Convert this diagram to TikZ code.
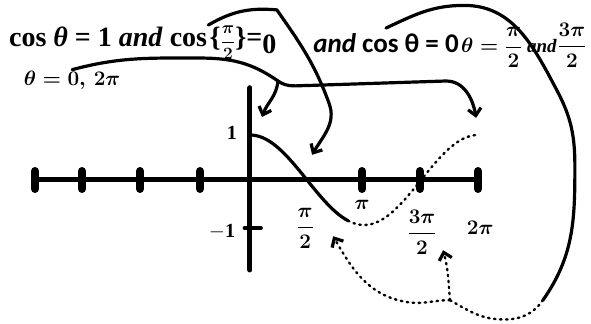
\documentclass[tikz,border=0pt]{standalone}
\usepackage{amsmath}
\usepackage{fontspec}
\setmainfont{Liberation Serif}
\newfontfamily\calibri{Carlito}
\usetikzlibrary{arrows.meta}
\begin{document}
\begin{tikzpicture}[x=36.3pt, y=45pt, line cap=round, line join=round,
    pen/.style={line width=3.2pt},
    dots/.style={line width=2.4pt, dash pattern=on 1.5pt off 4.5pt},
    barb/.style={-{Straight Barb[length=7pt,width=13pt,line width=3.2pt]}},
    notch/.style={line width=8pt},
    hand/.style={inner sep=1pt, font=\fontsize{20}{22}\selectfont},
    title/.style={inner sep=1pt, anchor=base west, font=\fontsize{28}{30}\selectfont\bfseries}]
  \useasboundingbox (-6.887,-3.178) rectangle (9.394,4.0);
  \draw[line width=5pt] (-5.92,0)--(6.28,0);
  \draw[line width=5pt] (0,-2)--(0,2.05);
  \foreach \t in {-5.92,-4.63,-3.03,-1.38,3.09,4.68,6.28}
    \draw[notch] (\t,-0.2)--(\t,0.2);
  \draw[line width=4pt] (-0.15,-1.07)--(0.3,-1.07);
  \draw[pen,domain=0:2.7,samples=60] plot ({\x},{cos(\x r)});
  \draw[dots,domain=2.7:6.28,samples=60] plot ({\x},{cos(\x r)});
  \node[hand] (lone) at (-0.5,1.04) {$\mathbf{1}$};
  \node[hand] (lmone) at (-0.77,-1.16) {$\mathbf{-1}$};
  \node[hand] (lhalf) at (1.52,-1.07) {$\boldsymbol{\dfrac{\pi}{2}}$};
  \node[hand] (lpi) at (3.09,-0.56) {$\boldsymbol{\pi}$};
  \node[hand] (lthree) at (4.74,-1.16) {$\boldsymbol{\dfrac{3\pi}{2}}$};
  \node[hand] (ltwo) at (6.34,-1.07) {$\boldsymbol{2\pi}$};
  \node[title] (eqone) at (-6.67,2.96) {cos \textit{θ} = 1 \textit{and} cos};
  \node[title] (halfpi) at (eqone.base east)
    {\{{\fontsize{16}{17}\selectfont$\boldsymbol{\dfrac{\pi}{2}}$}\}=\raisebox{-7pt}{0}};
  \node[title, font=\fontsize{27}{29}\selectfont\calibri\bfseries] (coszero) at (1.71,2.84) {\textit{and} cos θ = 0};
  \node[title, hand] (roots) at (coszero.base east)
    {$\boldsymbol{\theta=\dfrac{\pi}{2}}$ {\fontsize{19}{20}\selectfont\textbf{\textit{and}}}};
  \node[hand] (threehalf) at (8.87,3.0) {$\boldsymbol{\dfrac{3\pi}{2}}$};
  \node[hand, font=\fontsize{22}{24}\selectfont] (zeros) at (-4.9,2.22) {$\boldsymbol{\theta=0,\,2\pi}$};
  \coordinate (fork) at (0.77,2.2);
  \coordinate (tip0) at (0.33,1.4);
  \coordinate (tip2pi) at (6.23,1.38);
  \coordinate (tiphalf) at (1.71,0.56);
  \coordinate (split) at (5.51,-2.67);
  \coordinate (tiplhalf) at (2.29,-1.25);
  \coordinate (tiplthree) at (5.32,-1.56);
  \draw[pen] (zeros.north) to[out=15,in=180] (-1.4,2.71) to[out=0,in=145] (fork);
  \draw[pen,barb] (fork) to[out=-35,in=180] (1.6,2.1) -- (5.4,2.2) to[out=0,in=100] (tip2pi);
  \draw[pen,barb] (fork) to[out=-95,in=70] (tip0);
  \draw[pen,barb] (halfpi.north west) to[out=30,in=175] (0.74,3.78) to[out=-55,in=110] (2.18,1.7) to[out=-70,in=60] (tiphalf);
  \draw[pen] ([yshift=4pt]coszero.north) to[out=25,in=180] (5.9,3.88) to[out=0,in=118] (8.45,2.0) to[out=-62,in=90] (8.95,0.3) to[out=-90,in=55] (8.07,-2.67) coordinate (arcend);
  \draw[dots] (arcend) to[out=235,in=0] (7.0,-3.1) to[out=180,in=-30] (split);
  \draw[dots,barb] (split) to[out=95,in=-75] (tiplthree);
  \draw[dots,barb] (split) to[out=180,in=-10] (4.3,-2.71) to[out=170,in=-60] (tiplhalf);
\end{tikzpicture}
\end{document}
